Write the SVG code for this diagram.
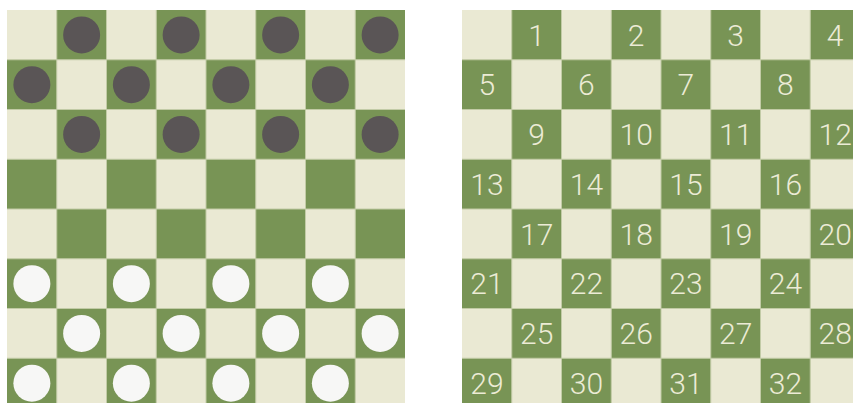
<svg xmlns="http://www.w3.org/2000/svg" xmlns:xlink="http://www.w3.org/1999/xlink" width="853" height="403" viewBox="0 0 853 403">
<style>
.light{fill:#eae9d3}
.dark{fill:#789455}
.grid{stroke:#c2cba6;stroke-width:1;fill:none}
.blk{fill:#5a5556}
.wht{fill:#f7f7f6}
.num{font-family:Roboto,"Liberation Sans",sans-serif;font-weight:300;font-size:30px;fill:#ecebd6;text-anchor:middle}
</style>
<defs>
<rect id="d" width="49.75" height="49.75" class="dark"/>
<g id="board">
<rect x="0" y="0" width="398" height="398" class="light"/>
<use href="#d" x="49.75" y="0"/><use href="#d" x="149.25" y="0"/><use href="#d" x="248.75" y="0"/><use href="#d" x="348.25" y="0"/>
<use href="#d" x="0" y="49.75"/><use href="#d" x="99.5" y="49.75"/><use href="#d" x="199" y="49.75"/><use href="#d" x="298.5" y="49.75"/>
<use href="#d" x="49.75" y="99.5"/><use href="#d" x="149.25" y="99.5"/><use href="#d" x="248.75" y="99.5"/><use href="#d" x="348.25" y="99.5"/>
<use href="#d" x="0" y="149.25"/><use href="#d" x="99.5" y="149.25"/><use href="#d" x="199" y="149.25"/><use href="#d" x="298.5" y="149.25"/>
<use href="#d" x="49.75" y="199"/><use href="#d" x="149.25" y="199"/><use href="#d" x="248.75" y="199"/><use href="#d" x="348.25" y="199"/>
<use href="#d" x="0" y="248.75"/><use href="#d" x="99.5" y="248.75"/><use href="#d" x="199" y="248.75"/><use href="#d" x="298.5" y="248.75"/>
<use href="#d" x="49.75" y="298.5"/><use href="#d" x="149.25" y="298.5"/><use href="#d" x="248.75" y="298.5"/><use href="#d" x="348.25" y="298.5"/>
<use href="#d" x="0" y="348.25"/><use href="#d" x="99.5" y="348.25"/><use href="#d" x="199" y="348.25"/><use href="#d" x="298.5" y="348.25"/>
<path class="grid" d="M49.75 0V398M99.5 0V398M149.25 0V398M199 0V398M248.75 0V398M298.5 0V398M348.25 0V398M0 49.75H398M0 99.5H398M0 149.25H398M0 199H398M0 248.75H398M0 298.5H398M0 348.25H398"/>
</g>
</defs>
<g id="board-start" transform="translate(7,10)">
<use href="#board"/>
<g id="black-pieces" class="blk">
<circle cx="74.625" cy="24.875" r="18.5"/><circle cx="174.125" cy="24.875" r="18.5"/><circle cx="273.625" cy="24.875" r="18.5"/><circle cx="373.125" cy="24.875" r="18.5"/>
<circle cx="24.875" cy="74.625" r="18.5"/><circle cx="124.375" cy="74.625" r="18.5"/><circle cx="223.875" cy="74.625" r="18.5"/><circle cx="323.375" cy="74.625" r="18.5"/>
<circle cx="74.625" cy="124.375" r="18.5"/><circle cx="174.125" cy="124.375" r="18.5"/><circle cx="273.625" cy="124.375" r="18.5"/><circle cx="373.125" cy="124.375" r="18.5"/>
</g>
<g id="white-pieces" class="wht">
<circle cx="24.875" cy="273.625" r="18.5"/><circle cx="124.375" cy="273.625" r="18.5"/><circle cx="223.875" cy="273.625" r="18.5"/><circle cx="323.375" cy="273.625" r="18.5"/>
<circle cx="74.625" cy="323.375" r="18.5"/><circle cx="174.125" cy="323.375" r="18.5"/><circle cx="273.625" cy="323.375" r="18.5"/><circle cx="373.125" cy="323.375" r="18.5"/>
<circle cx="24.875" cy="373.125" r="18.5"/><circle cx="124.375" cy="373.125" r="18.5"/><circle cx="223.875" cy="373.125" r="18.5"/><circle cx="323.375" cy="373.125" r="18.5"/>
</g>
</g>
<g id="board-numbers" transform="translate(462,10)">
<use href="#board"/>
<g class="num">
<text x="74.625" y="35.6">1</text><text x="174.125" y="35.6">2</text><text x="273.625" y="35.6">3</text><text x="373.125" y="35.6">4</text>
<text x="24.875" y="85.3">5</text><text x="124.375" y="85.3">6</text><text x="223.875" y="85.3">7</text><text x="323.375" y="85.3">8</text>
<text x="74.625" y="135.1">9</text><text x="174.125" y="135.1">10</text><text x="273.625" y="135.1">11</text><text x="373.125" y="135.1">12</text>
<text x="24.875" y="184.8">13</text><text x="124.375" y="184.8">14</text><text x="223.875" y="184.8">15</text><text x="323.375" y="184.8">16</text>
<text x="74.625" y="234.6">17</text><text x="174.125" y="234.6">18</text><text x="273.625" y="234.6">19</text><text x="373.125" y="234.6">20</text>
<text x="24.875" y="284.3">21</text><text x="124.375" y="284.3">22</text><text x="223.875" y="284.3">23</text><text x="323.375" y="284.3">24</text>
<text x="74.625" y="334.1">25</text><text x="174.125" y="334.1">26</text><text x="273.625" y="334.1">27</text><text x="373.125" y="334.1">28</text>
<text x="24.875" y="383.8">29</text><text x="124.375" y="383.8">30</text><text x="223.875" y="383.8">31</text><text x="323.375" y="383.8">32</text>
</g>
</g>
</svg>
